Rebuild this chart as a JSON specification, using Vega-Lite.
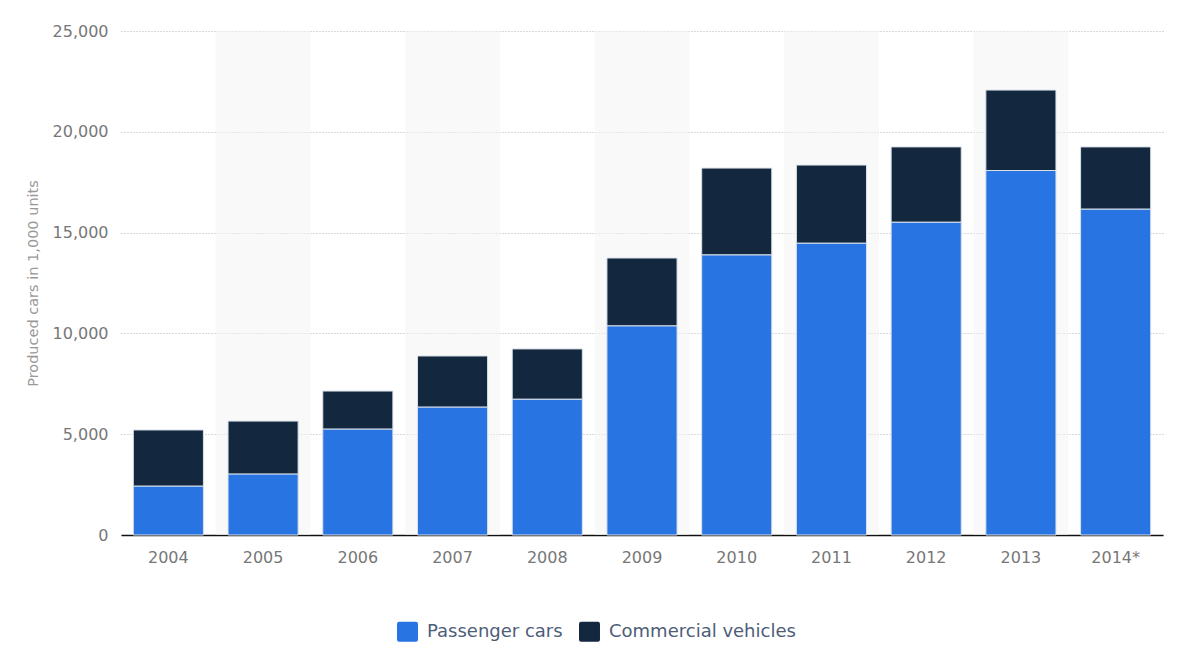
{
  "$schema": "https://vega.github.io/schema/vega-lite/v6.json",
  "width": 1042,
  "height": 504,
  "autosize": {"type": "none"},
  "padding": {"left": 121, "top": 31, "right": 16, "bottom": 119},
  "background": "white",
  "config": {"view": {"stroke": null}, "font": "DejaVu Sans"},
  "datasets": {
    "bands": [
      {"year": "2005"}, {"year": "2007"}, {"year": "2009"}, {"year": "2011"}, {"year": "2013"}
    ],
    "prod": [
      {"year": "2004", "type": "Passenger cars", "value": 2430},
      {"year": "2004", "type": "Commercial vehicles", "value": 2780},
      {"year": "2005", "type": "Passenger cars", "value": 3030},
      {"year": "2005", "type": "Commercial vehicles", "value": 2620},
      {"year": "2006", "type": "Passenger cars", "value": 5260},
      {"year": "2006", "type": "Commercial vehicles", "value": 1880},
      {"year": "2007", "type": "Passenger cars", "value": 6350},
      {"year": "2007", "type": "Commercial vehicles", "value": 2530},
      {"year": "2008", "type": "Passenger cars", "value": 6740},
      {"year": "2008", "type": "Commercial vehicles", "value": 2490},
      {"year": "2009", "type": "Passenger cars", "value": 10380},
      {"year": "2009", "type": "Commercial vehicles", "value": 3360},
      {"year": "2010", "type": "Passenger cars", "value": 13900},
      {"year": "2010", "type": "Commercial vehicles", "value": 4300},
      {"year": "2011", "type": "Passenger cars", "value": 14480},
      {"year": "2011", "type": "Commercial vehicles", "value": 3870},
      {"year": "2012", "type": "Passenger cars", "value": 15520},
      {"year": "2012", "type": "Commercial vehicles", "value": 3730},
      {"year": "2013", "type": "Passenger cars", "value": 18080},
      {"year": "2013", "type": "Commercial vehicles", "value": 3990},
      {"year": "2014*", "type": "Passenger cars", "value": 16170},
      {"year": "2014*", "type": "Commercial vehicles", "value": 3080}
    ]
  },
  "layer": [
    {
      "data": {"name": "bands"},
      "mark": {"type": "rect", "color": "#f3f3f3", "opacity": 0.5},
      "encoding": {
        "x": {
          "field": "year",
          "type": "ordinal",
          "scale": {
            "domain": ["2004", "2005", "2006", "2007", "2008", "2009", "2010", "2011", "2012", "2013", "2014*"],
            "paddingInner": 0,
            "paddingOuter": 0
          },
          "axis": null
        },
        "y": {
          "datum": 25000,
          "type": "quantitative",
          "axis": {
            "values": [0, 5000, 10000, 15000, 20000, 25000],
            "format": ",.0f",
            "title": "Produced cars in 1,000 units"
          }
        },
        "y2": {"datum": 0}
      }
    },
    {
      "data": {"name": "prod"},
      "mark": {"type": "bar", "stroke": "#d9e0e8", "strokeWidth": 1},
      "encoding": {
        "x": {
          "field": "year",
          "type": "ordinal",
          "scale": {
            "domain": ["2004", "2005", "2006", "2007", "2008", "2009", "2010", "2011", "2012", "2013", "2014*"],
            "paddingInner": 0.26,
            "paddingOuter": 0.13
          },
          "axis": {
            "title": null,
            "labelAngle": 0,
            "ticks": false,
            "domainColor": "#111111",
            "domainWidth": 1.5,
            "labelFontSize": 16,
            "labelColor": "#777777",
            "labelPadding": 14,
            "grid": false
          }
        },
        "y": {
          "field": "value",
          "type": "quantitative",
          "stack": "zero",
          "scale": {"domain": [0, 25000], "nice": false},
          "axis": {
            "values": [0, 5000, 10000, 15000, 20000, 25000],
            "format": ",.0f",
            "title": "Produced cars in 1,000 units",
            "domain": false,
            "ticks": false,
            "grid": true,
            "gridDash": [1, 2],
            "gridColor": "#b5b5b5",
            "labelFontSize": 16,
            "labelColor": "#777777",
            "labelPadding": 13,
            "titleFontSize": 14.5,
            "titleColor": "#999999",
            "titleFontWeight": "normal",
            "titlePadding": 12
          }
        },
        "color": {
          "field": "type",
          "type": "nominal",
          "scale": {
            "domain": ["Passenger cars", "Commercial vehicles"],
            "range": ["#2874e2", "#13283f"]
          },
          "legend": {
            "title": null,
            "orient": "none",
            "direction": "horizontal",
            "legendX": 276,
            "legendY": 590,
            "symbolType": "M-1,-0.75 Q-1,-0.95 -0.8,-0.95 L0.8,-0.95 Q1,-0.95 1,-0.75 L1,0.75 Q1,0.95 0.8,0.95 L-0.8,0.95 Q-1,0.95 -1,0.75 Z",
            "symbolSize": 440,
            "symbolStrokeWidth": 0,
            "symbolOpacity": 1,
            "labelFontSize": 18,
            "labelLimit": 400,
            "labelColor": "#4d5d78",
            "labelOffset": 9,
            "columnPadding": 16
          }
        },
        "order": {"field": "type", "sort": "descending"}
      }
    }
  ],
  "resolve": {"scale": {"x": "independent"}}
}
